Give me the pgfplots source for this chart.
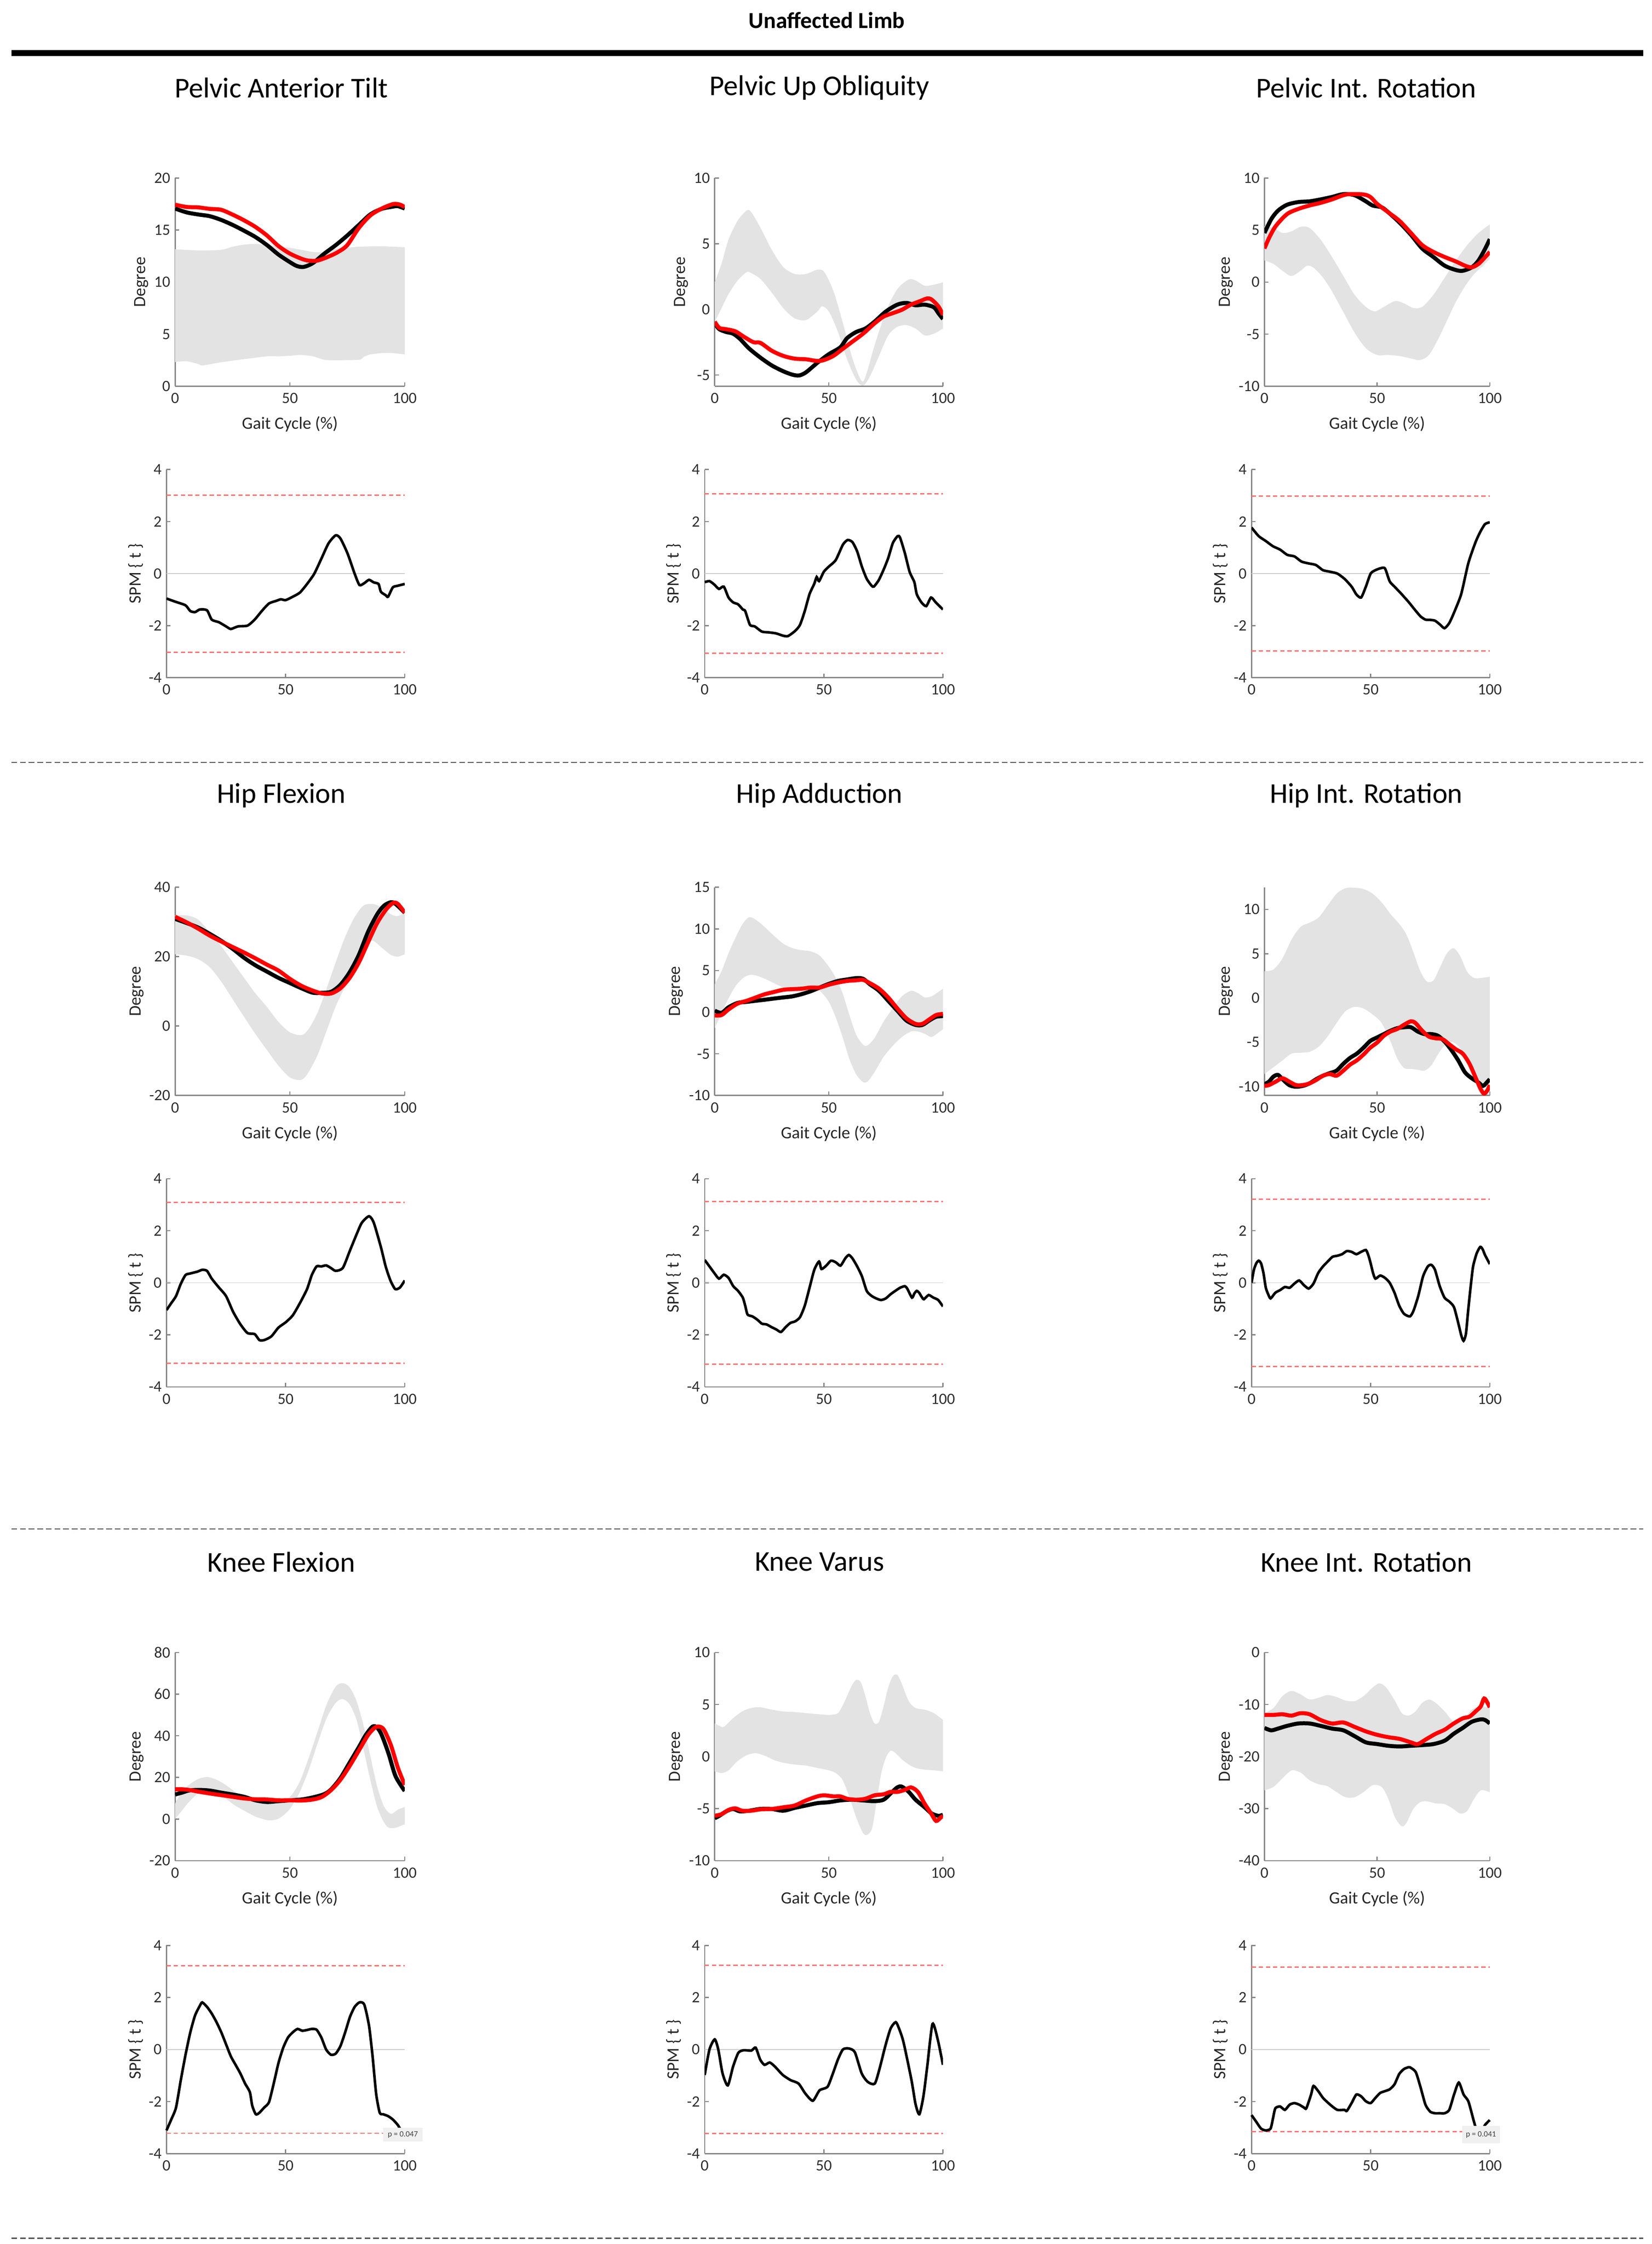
\documentclass[border=0pt]{standalone}
\usepackage{fontspec}
\setmainfont{Carlito}
\usepackage{pgfplots}
\pgfplotsset{compat=1.18}
\definecolor{axgray}{RGB}{135,135,135}
\definecolor{tickgray}{RGB}{45,45,45}
\definecolor{band}{RGB}{227,227,227}
\definecolor{thr}{RGB}{255,115,115}
\definecolor{sepc}{RGB}{80,80,80}
\pgfplotsset{
 panel/.style={
  scale only axis, enlargelimits=false,
  xmin=0,xmax=100,xtick={0,50,100},
  axis x line=bottom, axis y line=left,
  axis line style={draw=axgray,line width=0.45pt,-},
  tick align=inside, major tick length=1.4pt,
  every tick/.style={draw=axgray,line width=0.4pt},
  tick label style={font=\fontsize{5.5}{6}\selectfont, text=tickgray},
  label style={font=\fontsize{6}{7}\selectfont, text=black!85},
  ylabel style={yshift=-3pt},
  /pgf/number format/assume math mode=true,
  xticklabel style={inner sep=1pt, yshift=-1.2pt},
  yticklabel style={inner sep=1.5pt},
 },
 toppanel/.style={panel, height=72.5pt, xlabel={Gait Cycle (\%)}, ylabel={Degree}},
 spmpanel/.style={panel, width=83pt, height=72.5pt, ymin=-4, ymax=4, ytick={-4,-2,0,2,4}, ylabel={SPM \{ t \}}},
 bandst/.style={fill=band, draw=none, smooth},
 meanK/.style={black, line width=1.4pt, smooth},
 meanR/.style={red, line width=1.4pt, smooth},
 spmK/.style={black, line width=0.9pt, smooth, tension=0.4},
 zl/.style={gray!40, line width=0.3pt},
 tl/.style={thr, line width=0.45pt, dash pattern=on 1.5pt off 1pt},
}
\newcommand\ttl[3]{\node[font=\fontsize{10}{12}\selectfont, anchor=center] at (#1,#2) {#3};}
\begin{document}
\begin{tikzpicture}
\path[use as bounding box] (0,0) rectangle (575.5pt,-781.5pt);
\node[font=\bfseries\fontsize{8}{10}\selectfont] at (288pt,-7pt) {Unaffected Limb};
\draw[line width=2pt] (4pt,-18.5pt) -- (572.5pt,-18.5pt);
\foreach \yy in {-265.5pt,-532.5pt,-779.5pt} {\draw[sepc, line width=0.35pt, dash pattern=on 2pt off 1pt] (4pt,\yy) -- (572.5pt,\yy);}
\ttl{98pt}{-30.5pt}{Pelvic Anterior Tilt}
\ttl{285.5pt}{-30.5pt}{Pelvic Up Obliquity}
\ttl{476pt}{-30.5pt}{Pelvic Int. Rotation}
\ttl{98pt}{-277pt}{Hip Flexion}
\ttl{285.5pt}{-277pt}{Hip Adduction}
\ttl{476pt}{-277pt}{Hip Int. Rotation}
\ttl{98pt}{-544pt}{Knee Flexion}
\ttl{285.5pt}{-544pt}{Knee Varus}
\ttl{476pt}{-544pt}{Knee Int. Rotation}

% ---------- Row 1 ----------
\begin{axis}[toppanel, at={(61pt,-134.5pt)}, width=80pt, ymin=0, ymax=20, ytick={0,5,10,15,20}]
\addplot[bandst] coordinates {(0,13.16)(10,13.05)(20,13.1)(25,13.4)(30,13.6)(35,13.67)(40,13.56)(45,13.44)(50,13.3)(55,13.1)(60,12.9)(65,12.9)(70,13.2)(75,13.3)(80,13.4)(90,13.44)(100,13.35)(100,13.35)
(100,3.05)(100,3.05)(95,3.18)(90,3.18)(85,3.05)(82,2.8)(80,2.54)(70,2.5)(65,2.54)(60,2.87)(55,3.0)(50,2.93)(45,2.87)(40,2.87)(30,2.6)(20,2.3)(12,2.0)(10,2.14)(5,2.4)(0,2.32)};
\addplot[meanK] coordinates {(0,17.07)(5,16.7)(10,16.5)(15,16.34)(20,15.98)(25,15.5)(30,14.94)(35,14.33)(40,13.56)(45,12.65)(50,11.92)(53,11.55)(56,11.46)(60,11.83)(65,12.74)(70,13.56)(75,14.48)(80,15.49)(85,16.5)(90,17.04)(95,17.26)(97,17.3)(100,17.07)};
\addplot[meanR] coordinates {(0,17.44)(5,17.22)(10,17.18)(15,17.04)(20,16.95)(25,16.49)(30,15.94)(35,15.3)(40,14.48)(45,13.47)(50,12.74)(55,12.25)(58,12.07)(62,12.07)(67,12.47)(71,12.9)(75,13.56)(80,15.2)(85,16.4)(90,17.07)(95,17.5)(98,17.44)(100,17.2)};
\end{axis}

\begin{axis}[toppanel, at={(249pt,-134.5pt)}, width=79.5pt, ymin=-5.85, ymax=10, ytick={-5,0,5,10}]
\addplot[bandst] coordinates {(0,2.06)(3,3.49)(6,5.3)(10,6.74)(14,7.53)(16,7.4)(20,6.22)(25,4.53)(30,3.23)(35,2.7)(40,2.7)(45,3.02)(48,2.84)(52,1.4)(56,-0.94)(60,-3.54)(63,-5.0)(65,-5.5)(67,-4.6)(70,-2.76)(75,-0.16)(80,1.54)(85,2.27)(88,2.2)(92,1.8)(96,1.88)(100,2.06)(100,2.06)
(100,-1.46)(100,-1.46)(96,-1.85)(92,-1.98)(88,-1.46)(84,-1.2)(80,-1.33)(76,-1.98)(72,-3.54)(68,-5.1)(65,-5.8)(62,-5.36)(58,-3.8)(54,-1.72)(50,-0.16)(47,0.23)(45,-0.16)(40,-0.81)(35,-0.68)(30,0.1)(25,1.28)(20,2.32)(16,2.76)(14,2.84)(10,2.19)(6,1.15)(3,0.1)(0,-0.94)};
\addplot[meanK] coordinates {(0,-1.07)(2,-1.51)(5,-1.72)(8,-1.85)(11,-2.24)(15,-2.97)(20,-3.67)(25,-4.27)(30,-4.71)(34,-4.97)(37,-5.03)(40,-4.79)(45,-4.06)(50,-3.41)(55,-2.89)(58,-2.19)(62,-1.72)(66,-1.46)(70,-0.94)(75,-0.16)(80,0.36)(84,0.49)(88,0.31)(92,0.36)(96,0.16)(98,-0.29)(100,-0.73)};
\addplot[meanR] coordinates {(0,-0.94)(2,-1.41)(5,-1.51)(9,-1.67)(13,-2.11)(17,-2.5)(20,-2.55)(25,-3.15)(30,-3.54)(35,-3.75)(40,-3.8)(45,-3.93)(48,-3.85)(52,-3.54)(56,-3.02)(60,-2.5)(65,-1.85)(70,-1.07)(74,-0.55)(78,-0.29)(82,-0.03)(86,0.36)(90,0.63)(93,0.83)(95,0.75)(98,0.23)(100,-0.42)};
\end{axis}

\begin{axis}[toppanel, at={(440.5pt,-134.5pt)}, width=78.5pt, ymin=-10, ymax=10, ytick={-10,-5,0,5,10}]
\addplot[bandst] coordinates {(0,5.38)(4,5.21)(8,4.72)(12,4.88)(16,5.31)(20,5.21)(25,4.06)(30,2.41)(35,0.59)(40,-1.22)(45,-2.38)(49,-2.81)(53,-2.38)(58,-1.82)(62,-2.05)(66,-2.48)(70,-2.38)(75,-1.22)(80,0.43)(85,2.08)(90,3.56)(95,4.72)(100,5.54)(100,5.54)
(100,2.24)(100,2.24)(97,1.58)(93,0.76)(89,-0.4)(85,-1.88)(81,-3.7)(77,-5.51)(73,-7.0)(69,-7.49)(65,-7.33)(60,-7.1)(55,-7.0)(50,-7.0)(45,-6.34)(40,-4.85)(35,-2.87)(30,-0.89)(26,0.43)(22,1.35)(19,1.58)(16,1.09)(12,0.59)(8,1.09)(4,1.75)(0,2.08)};
\addplot[meanK] coordinates {(0,4.72)(3,6.04)(6,6.86)(10,7.43)(15,7.69)(20,7.76)(25,7.95)(30,8.18)(35,8.45)(40,8.35)(45,7.76)(48,7.36)(52,7.19)(55,6.7)(60,5.71)(65,4.55)(70,3.23)(75,2.41)(80,1.58)(85,1.16)(88,1.09)(92,1.42)(95,2.08)(98,3.23)(100,4.13)};
\addplot[meanR] coordinates {(0,3.23)(2,4.22)(5,5.38)(10,6.53)(15,7.03)(20,7.36)(25,7.62)(30,7.95)(35,8.35)(38,8.45)(44,8.42)(47,8.18)(50,7.52)(55,6.7)(60,5.87)(65,4.72)(70,3.56)(75,2.9)(80,2.41)(85,1.98)(89,1.58)(92,1.42)(95,1.75)(98,2.41)(100,2.9)};
\end{axis}

\begin{axis}[spmpanel, at={(58pt,-236pt)}]
\addplot[zl] coordinates {(0,0)(100,0)};
\addplot[tl] coordinates {(0,3.02)(100,3.02)};
\addplot[tl] coordinates {(0,-3.02)(100,-3.02)};
\addplot[spmK] coordinates {(0,-0.96)(4,-1.09)(8,-1.22)(10,-1.44)(12,-1.48)(14,-1.38)(17,-1.41)(19,-1.77)(22,-1.87)(25,-2.03)(27,-2.13)(30,-2.03)(34,-2.0)(37,-1.77)(40,-1.44)(43,-1.15)(46,-1.05)(48,-0.99)(50,-1.02)(53,-0.89)(56,-0.73)(59,-0.4)(62,-0.01)(65,0.57)(68,1.16)(71,1.47)(73,1.35)(76,0.77)(79,-0.01)(81,-0.44)(83,-0.37)(85,-0.24)(87,-0.34)(89,-0.4)(90,-0.7)(92,-0.83)(93,-0.89)(95,-0.53)(97,-0.47)(100,-0.4)};
\end{axis}

\begin{axis}[spmpanel, at={(245.5pt,-236pt)}]
\addplot[zl] coordinates {(0,0)(100,0)};
\addplot[tl] coordinates {(0,3.06)(100,3.06)};
\addplot[tl] coordinates {(0,-3.06)(100,-3.06)};
\addplot[spmK] coordinates {(0,-0.33)(2,-0.29)(4,-0.42)(6,-0.59)(8,-0.5)(10,-0.92)(12,-1.11)(14,-1.18)(16,-1.38)(17,-1.44)(19,-1.97)(21,-2.03)(24,-2.23)(27,-2.26)(30,-2.3)(33,-2.39)(35,-2.4)(38,-2.2)(40,-1.97)(42,-1.44)(44,-0.79)(46,-0.39)(47,-0.13)(48,-0.29)(50,0.07)(52,0.26)(55,0.52)(58,1.11)(60,1.29)(62,1.21)(64,0.85)(66,0.26)(68,-0.2)(70,-0.46)(71,-0.5)(73,-0.26)(75,0.13)(77,0.59)(79,1.18)(81,1.44)(82,1.38)(84,0.79)(86,0.07)(88,-0.33)(89,-0.79)(91,-1.11)(93,-1.25)(95,-0.92)(97,-1.11)(100,-1.38)};
\end{axis}

\begin{axis}[spmpanel, at={(436pt,-236pt)}]
\addplot[zl] coordinates {(0,0)(100,0)};
\addplot[tl] coordinates {(0,2.98)(100,2.98)};
\addplot[tl] coordinates {(0,-2.98)(100,-2.98)};
\addplot[spmK] coordinates {(0,1.77)(3,1.44)(6,1.25)(9,1.05)(12,0.92)(15,0.72)(18,0.66)(21,0.46)(24,0.39)(27,0.33)(30,0.13)(33,0.07)(36,0)(39,-0.2)(42,-0.5)(44,-0.8)(46,-0.92)(48,-0.5)(50,0)(52,0.13)(54,0.2)(56,0.2)(58,-0.3)(60,-0.5)(63,-0.79)(66,-1.1)(69,-1.44)(71,-1.65)(73,-1.77)(75,-1.78)(77,-1.81)(79,-1.95)(81,-2.1)(83,-1.9)(85,-1.5)(88,-0.79)(91,0.4)(94,1.2)(96,1.6)(98,1.9)(100,1.97)};
\end{axis}

% ---------- Row 2 ----------
\begin{axis}[toppanel, at={(61pt,-381.5pt)}, width=80pt, ymin=-20, ymax=40, ytick={-20,0,20,40}]
\addplot[bandst] coordinates {(0,31.9)(5,31.9)(10,30.7)(15,27.1)(20,23.1)(25,18.5)(30,13.9)(35,9.4)(40,5.5)(45,1.2)(50,-1.8)(55,-2.6)(58,-1.0)(62,3.8)(66,10.9)(70,18.5)(74,25.6)(78,31.2)(82,34.7)(86,35.2)(90,34.2)(94,32.2)(97,31.7)(100,32.7)(100,32.7)
(100,20.7)(100,20.7)(97,20.0)(94,20.5)(90,22.6)(86,24.6)(82,23.1)(78,18.0)(74,11.4)(70,5.8)(66,-1.3)(62,-8.4)(58,-13.4)(55,-15.5)(50,-14.8)(45,-11.4)(40,-6.9)(35,-2.3)(30,2.7)(25,7.8)(20,12.9)(15,17.0)(10,19.3)(5,20.3)(0,20.7)};
\addplot[meanK] coordinates {(0,30.9)(5,29.7)(10,28.4)(15,26.6)(20,24.6)(25,22.3)(30,19.7)(35,17.5)(40,15.7)(45,13.9)(50,12.4)(55,10.9)(60,9.6)(64,9.6)(68,9.9)(72,11.9)(76,15.5)(80,20.5)(84,27.1)(88,32.2)(91,34.7)(94,35.7)(96,35.2)(100,32.7)};
\addplot[meanR] coordinates {(0,31.5)(5,29.9)(10,28.1)(15,26.1)(20,24.4)(25,22.8)(30,21.2)(35,19.5)(40,17.7)(45,16.0)(50,13.6)(55,11.6)(60,10.2)(64,9.4)(68,9.4)(72,10.9)(76,13.9)(80,18.3)(84,24.1)(88,29.7)(92,33.7)(95,35.5)(97,35.2)(100,32.7)};
\end{axis}

\begin{axis}[toppanel, at={(249pt,-381.5pt)}, width=79.5pt, ymin=-10, ymax=15, ytick={-10,-5,0,5,10,15}]
\addplot[bandst] coordinates {(0,3.35)(3,4.93)(6,7.04)(9,8.89)(12,10.5)(15,11.4)(18,11.1)(22,10.2)(26,9.16)(30,8.23)(34,7.7)(38,7.44)(42,7.31)(46,6.78)(50,5.46)(53,4.14)(56,2.3)(59,-0.34)(62,-2.72)(65,-3.9)(67,-3.98)(70,-3.11)(74,-1.13)(78,0.45)(82,1.9)(86,2.56)(89,2.3)(92,1.77)(95,1.9)(98,2.43)(100,2.82)(100,2.82)
(100,-2.06)(100,-2.06)(98,-2.45)(95,-2.98)(92,-2.59)(89,-2.32)(86,-2.32)(82,-2.98)(78,-4.04)(74,-5.36)(70,-7.2)(67,-8.31)(65,-8.39)(62,-7.47)(59,-5.62)(56,-2.98)(53,-0.61)(50,1.24)(46,2.56)(42,2.82)(38,2.43)(34,2.56)(30,2.96)(26,3.48)(22,4.01)(18,4.41)(15,4.46)(12,4.01)(9,3.09)(6,1.64)(3,-0.08)(0,-1.93)};
\addplot[meanK] coordinates {(0,0.18)(3,-0.08)(6,0.58)(10,1.11)(14,1.24)(18,1.37)(22,1.5)(26,1.64)(30,1.77)(34,1.9)(38,2.16)(42,2.51)(46,2.96)(50,3.4)(54,3.75)(58,3.93)(62,4.09)(65,4.01)(68,3.35)(72,2.56)(76,1.37)(80,0.18)(84,-1.0)(88,-1.53)(91,-1.53)(94,-1.0)(97,-0.55)(100,-0.47)};
\addplot[meanR] coordinates {(0,-0.4)(3,-0.34)(6,0.32)(10,1.03)(14,1.37)(18,1.77)(22,2.16)(26,2.43)(30,2.69)(34,2.77)(38,2.82)(42,2.96)(46,2.96)(50,3.3)(54,3.56)(58,3.75)(62,3.83)(65,3.88)(68,3.48)(72,2.82)(76,1.77)(80,0.45)(84,-0.74)(88,-1.4)(91,-1.4)(94,-0.87)(97,-0.34)(100,-0.21)};
\end{axis}

\begin{axis}[toppanel, at={(440.5pt,-381.5pt)}, width=78.5pt, ymin=-11, ymax=12.5, ytick={-10,-5,0,5,10}]
\addplot[bandst] coordinates {(0,3.03)(4,3.22)(8,4.47)(12,6.58)(16,8.02)(20,8.5)(24,9.08)(28,10.42)(32,11.77)(36,12.4)(40,12.45)(44,12.3)(48,11.77)(52,10.8)(56,9.46)(60,8.31)(63,7.16)(66,5.24)(69,3.13)(72,1.88)(75,1.98)(78,3.51)(81,5.05)(84,5.62)(87,4.66)(90,2.94)(93,2.26)(96,2.26)(100,2.4)(100,2.4)
(100,-10.5)(100,-10.5)(98,-10.1)(95,-9.16)(92,-7.81)(89,-6.47)(86,-5.41)(83,-4.93)(80,-5.32)(77,-6.37)(74,-7.62)(71,-8.2)(68,-8.1)(65,-8.0)(62,-7.91)(59,-6.85)(56,-4.93)(52,-2.82)(48,-1.86)(44,-1.19)(40,-1.0)(36,-1.48)(32,-2.82)(28,-4.36)(24,-5.51)(20,-6.08)(16,-6.18)(12,-6.28)(8,-7.04)(4,-7.81)(0,-8.58)};
\addplot[meanK] coordinates {(0,-9.73)(2,-9.44)(4,-8.87)(6,-8.68)(8,-9.16)(11,-9.83)(14,-10.02)(17,-9.92)(20,-9.64)(23,-9.16)(26,-8.77)(29,-8.48)(32,-8.2)(35,-7.43)(38,-6.76)(41,-6.28)(44,-5.6)(47,-4.84)(50,-4.45)(53,-4.07)(56,-3.69)(59,-3.4)(62,-3.3)(65,-3.3)(68,-3.78)(71,-4.07)(74,-4.07)(77,-4.26)(80,-4.93)(83,-5.89)(86,-7.04)(89,-8.39)(92,-9.06)(95,-9.54)(97,-9.92)(99,-9.44)(100,-9.16)};
\addplot[meanR] coordinates {(0,-9.92)(2,-9.83)(5,-9.44)(8,-9.06)(11,-9.44)(14,-9.83)(17,-9.83)(20,-9.64)(23,-9.25)(26,-8.77)(29,-8.58)(32,-8.77)(35,-8.2)(38,-7.52)(41,-7.04)(44,-6.37)(47,-5.6)(50,-5.03)(53,-4.26)(56,-3.78)(59,-3.49)(62,-3.01)(65,-2.63)(67,-2.82)(70,-3.69)(73,-4.36)(76,-4.55)(79,-4.64)(82,-5.22)(85,-5.8)(88,-6.28)(91,-7.43)(94,-9.16)(96,-10.3)(97.5,-10.8)(99,-10.4)(100,-9.83)};
\end{axis}

\begin{axis}[spmpanel, at={(58pt,-483pt)}]
\addplot[zl] coordinates {(0,0)(100,0)};
\addplot[tl] coordinates {(0,3.09)(100,3.09)};
\addplot[tl] coordinates {(0,-3.09)(100,-3.09)};
\addplot[spmK] coordinates {(0,-1.05)(2,-0.78)(4,-0.51)(6,-0.04)(8,0.3)(10,0.36)(13,0.43)(15,0.5)(17,0.46)(19,0.16)(22,-0.18)(25,-0.51)(28,-1.12)(31,-1.59)(34,-1.93)(37,-1.97)(39,-2.2)(41,-2.2)(44,-2.06)(47,-1.72)(50,-1.52)(53,-1.25)(56,-0.78)(59,-0.24)(61,0.3)(63,0.63)(65,0.63)(67,0.67)(69,0.57)(71,0.46)(74,0.57)(77,1.24)(80,1.91)(82,2.31)(85,2.56)(87,2.31)(90,1.37)(92,0.63)(94,0.09)(96,-0.24)(98,-0.18)(100,0.09)};
\end{axis}

\begin{axis}[spmpanel, at={(245.5pt,-483pt)}]
\addplot[zl] coordinates {(0,0)(100,0)};
\addplot[tl] coordinates {(0,3.13)(100,3.13)};
\addplot[tl] coordinates {(0,-3.13)(100,-3.13)};
\addplot[spmK] coordinates {(0,0.88)(2,0.63)(4,0.38)(6,0.16)(8,0.31)(10,0.19)(12,-0.13)(14,-0.31)(16,-0.57)(17,-0.88)(18,-1.22)(20,-1.29)(22,-1.41)(24,-1.57)(26,-1.6)(28,-1.7)(30,-1.79)(32,-1.89)(34,-1.7)(36,-1.54)(38,-1.48)(40,-1.32)(42,-0.88)(44,-0.19)(46,0.5)(48,0.82)(49,0.53)(51,0.66)(53,0.85)(55,0.79)(57,0.66)(59,0.94)(60.5,1.07)(62,0.94)(64,0.63)(66,0.25)(68,-0.31)(70,-0.5)(72,-0.6)(74,-0.66)(76,-0.6)(78,-0.44)(80,-0.31)(82,-0.19)(84,-0.13)(85,-0.22)(87,-0.57)(88,-0.41)(89,-0.31)(90,-0.38)(91,-0.53)(92,-0.63)(94,-0.47)(96,-0.57)(98,-0.66)(100,-0.91)};
\end{axis}

\begin{axis}[spmpanel, at={(436pt,-483pt)}]
\addplot[zl] coordinates {(0,0)(100,0)};
\addplot[tl] coordinates {(0,3.21)(100,3.21)};
\addplot[tl] coordinates {(0,-3.21)(100,-3.21)};
\addplot[spmK] coordinates {(0,0)(1,0.5)(2,0.75)(3,0.85)(4,0.75)(5,0.38)(6,-0.19)(7,-0.44)(8,-0.6)(10,-0.38)(12,-0.28)(14,-0.16)(16,-0.19)(18,-0.03)(20,0.09)(22,-0.09)(24,-0.22)(26,-0.03)(28,0.38)(30,0.63)(32,0.82)(34,1.0)(36,1.04)(38,1.1)(40,1.22)(42,1.19)(44,1.1)(46,1.19)(48,1.26)(49,1.07)(50,0.75)(51,0.38)(52,0.16)(54,0.28)(56,0.19)(58,0)(60,-0.38)(62,-0.88)(64,-1.19)(66.5,-1.29)(68,-1.07)(70,-0.5)(72,0.25)(74,0.63)(75.5,0.69)(77,0.5)(79,-0.13)(81,-0.57)(83,-0.72)(85,-0.94)(87,-1.63)(88,-2.01)(89,-2.23)(90,-1.95)(91,-1.0)(92,-0.13)(93,0.63)(94.5,1.13)(96,1.38)(97,1.29)(98,1.07)(100,0.72)};
\end{axis}

% ---------- Row 3 ----------
\begin{axis}[toppanel, at={(61pt,-648pt)}, width=80pt, ymin=-20, ymax=80, ytick={-20,0,20,40,60,80}]
\addplot[bandst] coordinates {(0,7.4)(3,13.2)(6,16.4)(10,19.2)(14,20.2)(18,18.9)(22,16.4)(26,13.2)(30,10.7)(35,8.6)(40,7.4)(45,7.7)(50,10.7)(54,17.3)(58,28.8)(62,41.9)(66,55.1)(70,63.7)(73,65.3)(76,63.3)(79,56.7)(82,45.2)(85,30.4)(88,15.6)(91,6)(94,2.5)(97,4.5)(100,5.8)(100,5.8)
(100,-2.5)(100,-2.5)(96,-4.2)(93,-4.1)(91,-1.6)(88,5.8)(85,18.9)(82,33.7)(79,47.7)(76,55.1)(73,57.6)(70,55.9)(66,48.5)(62,36.2)(58,23.0)(54,12.3)(50,4.9)(46,0.8)(43,-0.5)(40,-0.5)(35,1.2)(30,4.1)(26,6.6)(22,9.9)(18,12.3)(14,13.2)(10,12.3)(6,8.2)(3,4.1)(0,0)};
\addplot[meanK] coordinates {(0,11.8)(3,12.7)(6,13.7)(10,14.0)(15,13.7)(20,12.7)(25,11.8)(30,10.7)(35,9.0)(40,8.2)(45,8.6)(50,9.0)(55,9.4)(60,10.4)(65,12.0)(68,14.3)(72,19.7)(76,27.1)(80,34.5)(83,40.3)(86,44.4)(88,43.9)(90,40.3)(93,31.3)(96,20.6)(100,13.5)};
\addplot[meanR] coordinates {(0,14.3)(3,14.3)(6,14.0)(10,13.2)(15,12.3)(20,11.5)(25,10.7)(30,9.9)(35,9.5)(40,9.4)(45,9.0)(50,9.0)(55,8.9)(60,9.4)(64,10.7)(68,14.0)(72,18.9)(76,25.5)(80,32.9)(84,40.3)(87,43.9)(89,44.4)(91,42.8)(94,35.4)(97,24.7)(100,16.4)};
\end{axis}

\begin{axis}[toppanel, at={(249pt,-648pt)}, width=79.5pt, ymin=-10, ymax=10, ytick={-10,-5,0,5,10}]
\addplot[bandst] coordinates {(0,3.19)(2,2.96)(4,2.86)(8,3.68)(12,4.34)(16,4.67)(20,4.74)(25,4.51)(30,4.34)(35,4.28)(40,4.18)(45,4.08)(50,4.01)(54,4.18)(57,5.33)(60,6.81)(62,7.37)(64,7.14)(66,5.82)(68,4.18)(70,3.19)(72,3.36)(74,4.84)(76,6.64)(78,7.7)(80,7.86)(82,6.97)(85,5.33)(88,4.67)(92,4.51)(96,4.18)(100,3.52)(100,3.52)
(100,-1.41)(100,-1.41)(96,-1.32)(92,-1.25)(88,-1.09)(85,-0.76)(82,-0.26)(79,0.39)(77,0.56)(75,-0.1)(73,-1.58)(71,-4.21)(69,-6.84)(67,-7.5)(65,-7.34)(62,-5.86)(59,-3.88)(56,-2.24)(53,-1.58)(50,-1.32)(45,-1.09)(40,-0.86)(35,-0.76)(30,-0.59)(26,-0.33)(22,0.07)(18,0.33)(14,0.13)(10,-0.43)(6,-1.32)(3,-1.58)(0,-1.41)};
\addplot[meanK] coordinates {(0,-5.92)(2,-5.69)(5,-5.26)(8,-5.03)(11,-5.26)(15,-5.2)(20,-5.03)(25,-5.03)(30,-5.2)(35,-4.93)(40,-4.7)(45,-4.47)(50,-4.38)(55,-4.21)(60,-4.14)(65,-4.21)(70,-4.28)(74,-4.14)(77,-3.55)(80,-2.96)(82,-2.89)(85,-3.39)(88,-4.14)(92,-4.87)(95,-5.46)(98,-5.69)(100,-5.59)};
\addplot[meanR] coordinates {(0,-5.69)(3,-5.53)(6,-5.13)(9,-4.97)(12,-5.2)(16,-5.2)(20,-5.07)(25,-5.03)(30,-4.87)(35,-4.7)(40,-4.21)(45,-3.82)(48,-3.72)(52,-3.82)(55,-3.82)(58,-4.05)(62,-4.14)(66,-4.05)(70,-3.72)(74,-3.62)(77,-3.39)(80,-3.39)(83,-3.22)(86,-2.96)(89,-3.39)(92,-4.54)(95,-5.53)(97,-6.18)(99,-5.86)(100,-5.69)};
\end{axis}

\begin{axis}[toppanel, at={(440.5pt,-648pt)}, width=78.5pt, ymin=-40, ymax=0, ytick={-40,-30,-20,-10,0}]
\addplot[bandst] coordinates {(0,-11.66)(4,-10.67)(8,-8.37)(12,-7.38)(16,-8.04)(20,-9.03)(24,-8.7)(28,-8.17)(32,-8.56)(36,-9.22)(40,-9.35)(44,-8.37)(48,-6.72)(51,-5.93)(54,-6.72)(58,-9.35)(61,-11.66)(64,-12.12)(67,-11.33)(70,-9.68)(73,-9.03)(76,-9.68)(80,-11.33)(84,-13.31)(88,-12.98)(92,-11.0)(96,-10.34)(100,-10.67)(100,-10.67)
(100,-26.81)(100,-26.81)(96,-26.48)(93,-28.13)(90,-30.43)(87,-30.96)(84,-30.1)(80,-29.12)(76,-28.99)(72,-28.59)(69,-28.79)(66,-30.1)(63,-32.74)(61,-33.4)(58,-31.75)(55,-28.13)(52,-25.82)(48,-25.49)(44,-26.81)(40,-27.8)(36,-27.8)(32,-26.81)(28,-25.69)(24,-25.3)(20,-24.51)(16,-23.06)(12,-22.66)(8,-24.18)(4,-25.82)(0,-26.48)};
\addplot[meanK] coordinates {(0,-14.49)(3,-14.95)(6,-14.62)(10,-14.1)(15,-13.64)(20,-13.64)(25,-14.1)(30,-14.62)(35,-14.95)(40,-16.07)(45,-17.26)(50,-17.59)(55,-17.92)(60,-18.05)(65,-17.92)(70,-17.79)(75,-17.59)(80,-16.93)(84,-15.61)(88,-14.49)(92,-13.31)(96,-12.85)(98,-12.98)(100,-13.64)};
\addplot[meanR] coordinates {(0,-11.99)(4,-11.99)(8,-11.86)(12,-12.12)(16,-11.66)(20,-11.86)(25,-12.98)(30,-13.64)(35,-13.44)(40,-14.29)(45,-15.15)(50,-15.81)(55,-16.27)(60,-16.6)(65,-17.26)(68,-17.59)(72,-16.6)(76,-15.61)(80,-14.82)(84,-13.64)(88,-12.65)(91,-12.32)(94,-11.2)(96,-10.34)(97.5,-8.83)(99,-9.68)(100,-10.54)};
\end{axis}

\begin{axis}[spmpanel, at={(58pt,-750pt)}, clip=false]
\addplot[zl] coordinates {(0,0)(100,0)};
\addplot[tl] coordinates {(0,3.22)(100,3.22)};
\addplot[tl] coordinates {(0,-3.22)(100,-3.22)};
\addplot[spmK] coordinates {(0,-3.11)(2,-2.69)(4,-2.23)(6,-1.18)(8,-0.2)(10,0.66)(12,1.31)(14,1.68)(15,1.81)(17,1.64)(19,1.38)(21,1.05)(23,0.66)(25,0.2)(27,-0.26)(29,-0.59)(31,-0.92)(33,-1.31)(35,-1.64)(36,-2.16)(37.5,-2.49)(39,-2.43)(41,-2.23)(43,-2.03)(45,-1.31)(47,-0.52)(49,0.07)(51,0.46)(53,0.66)(55,0.79)(57,0.72)(59,0.75)(61,0.79)(63,0.76)(65,0.46)(67,0)(69,-0.2)(71,-0.16)(73,0.13)(75,0.66)(77,1.25)(79,1.64)(81,1.81)(83,1.73)(85,0.92)(86.5,-0.26)(88,-1.7)(89.5,-2.43)(91,-2.49)(93,-2.56)(95,-2.69)(97,-2.89)(98,-3.04)(99,-3.2)(100,-3.3)};
\node[fill=gray!12, inner sep=0pt, minimum width=13.7pt, minimum height=4.8pt, font=\fontsize{2.8}{3}\selectfont, text=black!75] at (axis cs:99.2,-3.28) {p = 0.047};
\end{axis}

\begin{axis}[spmpanel, at={(245.5pt,-750pt)}]
\addplot[zl] coordinates {(0,0)(100,0)};
\addplot[tl] coordinates {(0,3.23)(100,3.23)};
\addplot[tl] coordinates {(0,-3.23)(100,-3.23)};
\addplot[spmK] coordinates {(0,-0.98)(2,0)(4.2,0.39)(5.7,0)(7.5,-0.92)(9.7,-1.38)(11.9,-0.66)(14.1,-0.13)(16.3,-0.03)(19.6,-0.04)(21.4,0.07)(23.3,-0.39)(25.1,-0.59)(27.3,-0.5)(29.5,-0.66)(32.8,-0.98)(36.1,-1.18)(39.4,-1.31)(42.3,-1.7)(45.4,-1.97)(48.2,-1.57)(51.5,-1.44)(53.5,-1.0)(55.9,-0.39)(58,0)(60.4,0.04)(63,-0.1)(65.9,-0.92)(68.5,-1.25)(71.4,-1.31)(73.5,-0.7)(75.8,0.13)(78,0.8)(80.2,1.05)(81.8,0.75)(83.5,0.26)(86.8,-1.18)(88.5,-2.1)(90.1,-2.49)(91.8,-1.8)(93.4,-0.66)(95.6,0.98)(97.8,0.39)(100,-0.59)};
\end{axis}

\begin{axis}[spmpanel, at={(436pt,-750pt)}, clip=false]
\addplot[zl] coordinates {(0,0)(100,0)};
\addplot[tl] coordinates {(0,3.16)(100,3.16)};
\addplot[tl] coordinates {(0,-3.16)(100,-3.16)};
\addplot[spmK] coordinates {(0,-2.52)(2,-2.78)(4,-3.04)(6,-3.11)(8,-3.04)(9,-2.65)(10,-2.26)(12,-2.19)(14,-2.32)(16,-2.12)(18,-2.06)(20,-2.12)(22,-2.23)(23,-2.26)(25,-1.73)(26,-1.4)(28,-1.6)(30,-1.86)(33,-2.12)(36,-2.32)(39,-2.32)(40,-2.36)(42,-2.06)(44,-1.73)(46,-1.8)(48,-1.99)(50,-2.06)(52,-1.86)(54,-1.67)(56,-1.6)(58,-1.53)(60,-1.34)(62,-0.94)(64,-0.75)(66,-0.68)(67,-0.71)(69,-0.88)(71,-1.47)(73,-2.12)(75,-2.39)(77,-2.45)(79,-2.45)(81,-2.45)(83,-2.32)(85,-1.73)(87,-1.27)(89,-1.73)(91,-1.99)(93,-2.65)(94,-2.98)(95,-3.3)(96,-3.4)(97,-3.1)(98,-2.9)(100,-2.71)};
\node[fill=gray!12, inner sep=0pt, minimum width=13.1pt, minimum height=6pt, font=\fontsize{2.8}{3}\selectfont, text=black!75] at (axis cs:96.3,-3.27) {p = 0.041};
\end{axis}
\end{tikzpicture}
\end{document}
